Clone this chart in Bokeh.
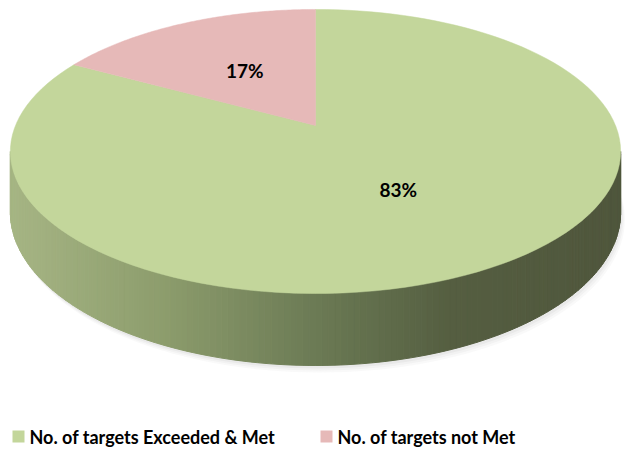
import numpy as np
from bokeh.plotting import figure
from bokeh.models import Range1d
from bokeh.embed import file_html
from bokeh.resources import INLINE
from bokeh.core.properties import value

# ---- data ----
categories = ["No. of targets  Exceeded & Met", "No. of targets not Met"]
shares = [83, 17]
pct_labels = ["83%", "17%"]
colors = ["#C3D69B", "#E6B9B8"]

# ---- figure (data units == picture pixels) ----
W, H = 625, 449
p = figure(width=W, height=H, x_range=Range1d(0, W), y_range=Range1d(H, 0),
           output_backend="svg", toolbar_location=None, min_border=0,
           outline_line_color=None)
p.axis.visible = False
p.grid.visible = False
p.background_fill_color = "white"
p.border_fill_color = "white"

# ---- perspective projection of the pie disc ----
CX, CY0, R, K, B, THICK = 315.0, 125.0, 300.0, -0.183, 114.4, 58.8

def proj(a_deg, r=1.0):
    a = np.radians(a_deg)
    u = r * np.sin(a)
    d = -r * np.cos(a)
    den = 1 + K * d
    return CX + R * u / den, (CY0 + B * d) / den, den

# shadow
aa = np.linspace(0, 360, 181)
sx, sy, sd = proj(aa)
sby = sy + THICK / sd
for off, al in [(7, 0.05), (5, 0.06), (3, 0.07)]:
    p.patch(sx + off * 0.6, sby + off, fill_color="#808080", fill_alpha=al, line_color=None)

# side (front half) with horizontal gradient
stops_x = [10, 160, 316, 450, 620]
stops_c = [(166, 181, 132), (141, 157, 109), (107, 122, 84), (85, 94, 65), (79, 86, 60)]
a0 = np.degrees(np.arccos(K))
side_a = np.linspace(a0, 360 - a0, 161)
txs, tys, tds = proj(side_a)
bys = tys + THICK / tds
xs, ys, cs = [], [], []
for i in range(len(side_a) - 1):
    xs.append([txs[i], txs[i + 1], txs[i + 1], txs[i]])
    ys.append([tys[i], tys[i + 1], bys[i + 1], bys[i]])
    xm = 0.5 * (txs[i] + txs[i + 1])
    c = [int(round(np.interp(xm, stops_x, [s[j] for s in stops_c]))) for j in range(3)]
    cs.append("#%02x%02x%02x" % tuple(c))
p.patches(xs, ys, fill_color=cs, line_color=cs, line_width=1)

# top face slices
total = float(sum(shares))
start = 0.0
lab_x, lab_y = [], []
for share, col in zip(shares, colors):
    end = start + 360.0 * share / total
    arc = np.linspace(start, end, 120)
    ax_, ay_, _ = proj(arc)
    vx, vy, _ = proj(0.0, 0.0)
    p.patch(np.concatenate([[vx], ax_]), np.concatenate([[vy], ay_]),
            fill_color=col, line_color=col, line_width=0.5)
    mx, my, _ = proj(0.5 * (start + end), 0.5)
    lab_x.append(mx)
    lab_y.append(my)
    start = end

p.text(x=lab_x, y=lab_y, text=pct_labels, text_font=value("Lato"),
       text_font_style="bold", text_font_size="19px", text_color="black",
       text_align="center", text_baseline="middle")

# legend
leg_sq_x = [18, 326]
leg_tx = [29, 337]
leg_y = [436, 436]
p.rect(x=leg_sq_x, y=leg_y, width=12, height=12, fill_color=colors, line_color=None)
p.text(x=leg_tx, y=leg_y, text=categories, text_font=value("Lato"),
       text_font_style="bold", text_font_size="18px", text_color="black",
       text_align="left", text_baseline="middle")

open("out.html", "w").write(file_html(p, INLINE))
